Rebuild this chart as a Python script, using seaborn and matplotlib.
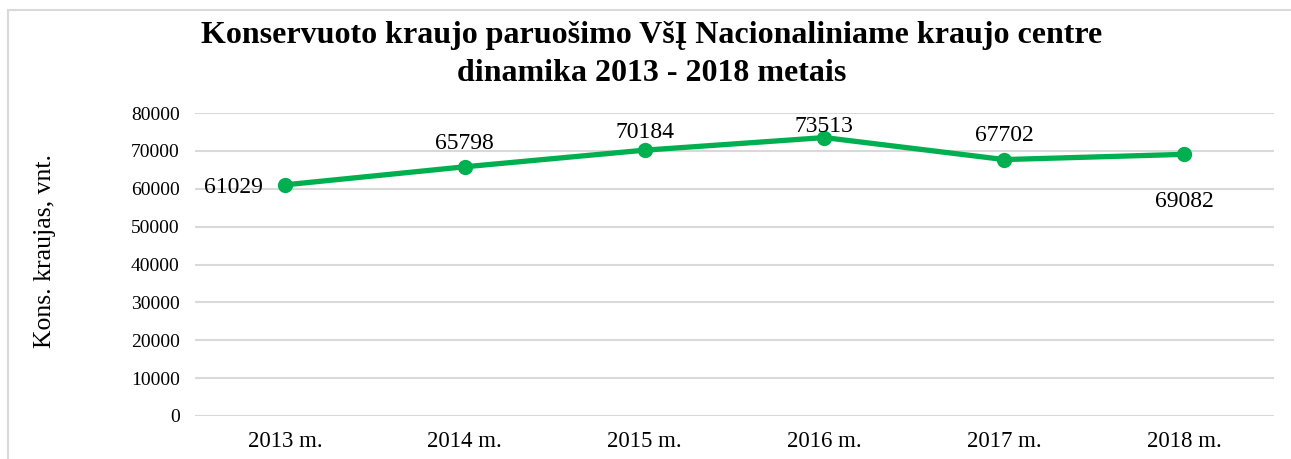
import matplotlib
matplotlib.use("Agg")
import matplotlib.pyplot as plt
import seaborn as sns
import pandas as pd
from matplotlib.patches import Rectangle

years = ["2013 m.", "2014 m.", "2015 m.", "2016 m.", "2017 m.", "2018 m."]
units = [61029, 65798, 70184, 73513, 67702, 69082]
# value label offsets (points) from each marker, as placed in the original
label_dx = [-16, 0, 0, 0, 0, 0]
label_dy = [-2, 17, 13, 8, 17, -34]

title_lines = ["Konservuoto kraujo paruošimo VšĮ Nacionaliniame kraujo centre",
               "dinamika 2013 - 2018 metais"]

df = pd.DataFrame({"year": years, "units": units})

sns.set_theme(style="white")
plt.rcParams["font.family"] = ["Liberation Serif", "DejaVu Serif"]
plt.rcParams["text.color"] = "black"
plt.rcParams["xtick.color"] = "black"
plt.rcParams["ytick.color"] = "black"

W, H = 1291, 459
fig = plt.figure(figsize=(W / 100, H / 100), dpi=100)
ax = fig.add_axes([195 / W, 1 - 416 / H, (1274 - 195) / W, (416 - 113) / H])

green = "#00B050"
sns.lineplot(data=df, x="year", y="units", ax=ax, color=green, linewidth=3.8,
             marker="o", markersize=11, markeredgewidth=0, sort=False)

ax.set_xlim(-0.5, len(years) - 0.5)
ax.set_ylim(0, 80000)
ax.set_yticks(range(0, 80001, 10000))
ax.yaxis.grid(True, color="#d9d9d9", linewidth=1.5)
ax.set_axisbelow(True)
for s in ax.spines.values():
    s.set_visible(False)
ax.tick_params(axis="y", labelsize=14, pad=11, length=0)
ax.tick_params(axis="x", labelsize=16.5, pad=11, length=0)
ax.set_xlabel("")
ax.set_ylabel("")

for i, v in enumerate(units):
    dx, dy = label_dx[i], label_dy[i]
    ha = "right" if dx < 0 else "center"
    ax.annotate(str(v), (i, v), xytext=(dx, dy), textcoords="offset points",
                ha=ha, va="center", fontsize=17)

fig.text(45 / W, 1 - 251 / H, "Kons. kraujas, vnt.", rotation=90,
         ha="center", va="center", fontsize=18.5)
for line, base in zip(title_lines, [43, 81]):
    fig.text(652 / W, 1 - base / H, line, ha="center", va="baseline",
             fontsize=23, fontweight="bold")

fig.patches.append(Rectangle((8 / W, -0.1), 1.2, 1 - 10 / H + 0.1,
                             transform=fig.transFigure, fill=False,
                             edgecolor="#d9d9d9", linewidth=1.5))

fig.savefig("out.png", dpi=100)
